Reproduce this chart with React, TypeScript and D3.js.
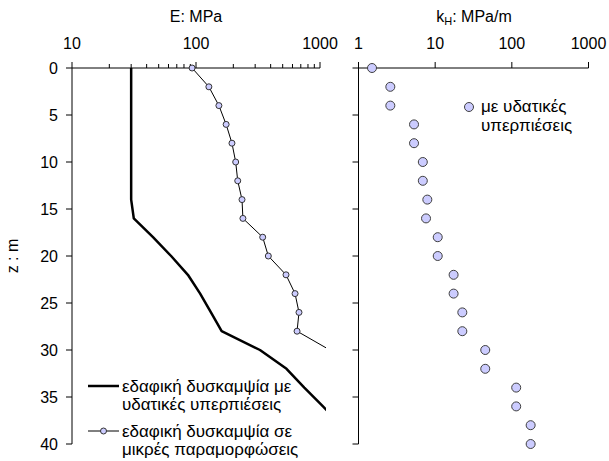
import React from "react";
import * as d3 from "d3";

// depth (m)
const depthE = [0, 2, 4, 6, 8, 10, 12, 14, 16, 18, 20, 22, 24, 26, 28, 30];
// E at small strains (MPa)
const eSmall = [93, 127, 153, 175, 195, 209, 217, 235, 239, 345, 383, 532, 629, 677, 653, 1200];

// E with pore pressures (MPa)
const depthPore = [0, 14, 16, 18, 20, 22, 24, 26, 28, 30, 32, 34, 36, 38];
const ePore = [30, 30, 31.5, 45, 63, 86, 108, 132, 161, 328, 537, 747, 1057, 1500];

// kH (MPa/m)
const depthK = [0, 2, 4, 6, 8, 10, 12, 14, 16, 18, 20, 22, 24, 26, 28, 30, 32, 34, 36, 38, 40];
const kH = [1.5, 2.6, 2.6, 5.3, 5.3, 6.9, 6.9, 7.9, 7.6, 10.8, 10.8, 17.4, 17.4, 22.6, 22.6, 45, 45, 114, 114, 176, 176];

const zTicks = [0, 5, 10, 15, 20, 25, 30, 35, 40];
const eTicks = [10, 100, 1000];
const kTicks = [1, 10, 100, 1000];

const W = 609;
const H = 461;
const FONT = "'Liberation Sans', Arial, sans-serif";
const FILL = "#ccccff";

const y = d3.scaleLinear().domain([0, 40]).range([68, 444]);
const xE = d3.scaleLog().domain([10, 1000]).range([72, 320]);
const xK = d3.scaleLog().domain([1, 1000]).range([358.5, 588.5]);

const eMinor = d3.range(2, 10).flatMap((m) => [m * 10, m * 100]);

export default function App() {
  const poreLine = d3
    .line<number>()
    .x((d, i) => xE(ePore[i]))
    .y((d) => y(d));
  const smallLine = d3
    .line<number>()
    .x((d, i) => xE(eSmall[i]))
    .y((d) => y(d));

  return (
    <svg width={W} height={H} style={{ position: "absolute", left: 0, top: 0 }} fontFamily={FONT}>
      <rect width={W} height={H} fill="#fff" />
      <defs>
        <clipPath id="clipE">
          <rect x={xE(10)} y={y(0) - 6} width={xE(1000) - xE(10) + 6} height={y(40) - y(0) + 12} />
        </clipPath>
      </defs>

      {/* left panel */}
      <text x={(xE(10) + xE(1000)) / 2} y={22} textAnchor="middle" fontSize={16}>E: MPa</text>
      {eTicks.map((t) => (
        <text key={t} x={xE(t)} y={49} textAnchor="middle" fontSize={16}>{t}</text>
      ))}
      <line x1={xE(10)} x2={xE(1000)} y1={y(0)} y2={y(0)} stroke="#000" />
      {eTicks.map((t) => (
        <line key={t} x1={xE(t)} x2={xE(t)} y1={y(0)} y2={y(0) - 6} stroke="#000" />
      ))}
      {eMinor.map((t) => (
        <line key={t} x1={xE(t)} x2={xE(t)} y1={y(0)} y2={y(0) - 4} stroke="#000" />
      ))}
      <line x1={xE(10)} x2={xE(10)} y1={y(0)} y2={y(40)} stroke="#000" />
      {zTicks.map((t) => (
        <g key={t}>
          <line x1={xE(10) - 6} x2={xE(10)} y1={y(t)} y2={y(t)} stroke="#000" />
          <text x={58} y={y(t) + 6} textAnchor="end" fontSize={16}>{t}</text>
        </g>
      ))}
      <text transform={`translate(18,${y(20)}) rotate(-90)`} textAnchor="middle" fontSize={16}>z : m</text>

      <g clipPath="url(#clipE)">
        <path d={poreLine(depthPore) || ""} fill="none" stroke="#000" strokeWidth={2.5} strokeLinejoin="round" />
        <path d={smallLine(depthE) || ""} fill="none" stroke="#000" strokeWidth={1} />
        {depthE.map((d, i) =>
          eSmall[i] <= 1000 ? (
            <circle key={i} cx={xE(eSmall[i])} cy={y(d)} r={3} fill={FILL} stroke="#333" strokeWidth={1} />
          ) : null
        )}
      </g>

      {/* left legend */}
      <line x1={88} x2={119} y1={386} y2={386} stroke="#000" strokeWidth={2.5} />
      <text x={122} y={392} fontSize={17}>εδαφική δυσκαμψία με</text>
      <text x={122} y={410} fontSize={17}>υδατικές υπερπιέσεις</text>
      <line x1={88} x2={119} y1={431} y2={431} stroke="#000" strokeWidth={1} />
      <circle cx={103.5} cy={431} r={3} fill={FILL} stroke="#333" />
      <text x={122} y={437} fontSize={17}>εδαφική δυσκαμψία σε</text>
      <text x={122} y={455} fontSize={17}>μικρές παραμορφώσεις</text>

      {/* right panel */}
      <text x={474} y={22} textAnchor="middle" fontSize={16}>
        k<tspan fontSize={11} dy={3}>H</tspan><tspan dy={-3}>: MPa/m</tspan>
      </text>
      {kTicks.map((t) => (
        <text key={t} x={xK(t)} y={49} textAnchor="middle" fontSize={16}>{t}</text>
      ))}
      <line x1={xK(1)} x2={xK(1000)} y1={y(0)} y2={y(0)} stroke="#000" />
      {kTicks.map((t) => (
        <line key={t} x1={xK(t)} x2={xK(t)} y1={y(0)} y2={y(0) - 6} stroke="#000" />
      ))}
      <line x1={xK(1)} x2={xK(1)} y1={y(0)} y2={y(40)} stroke="#000" />
      {zTicks.map((t) => (
        <line key={t} x1={xK(1) - 6} x2={xK(1)} y1={y(t)} y2={y(t)} stroke="#000" />
      ))}
      {depthK.map((d, i) => (
        <circle key={i} cx={xK(kH[i])} cy={y(d)} r={4.5} fill={FILL} stroke="#404040" strokeWidth={1} />
      ))}

      {/* right legend */}
      <circle cx={469} cy={107} r={4.5} fill={FILL} stroke="#404040" />
      <text x={481} y={112} fontSize={17}>με υδατικές</text>
      <text x={481} y={131} fontSize={17}>υπερπιέσεις</text>
    </svg>
  );
}
